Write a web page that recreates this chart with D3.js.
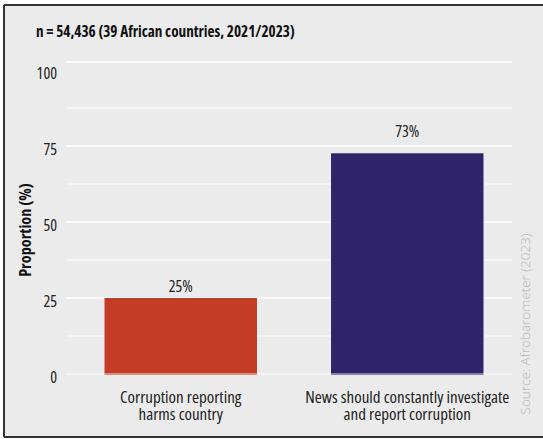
<!DOCTYPE html>
<html>
<head>
<meta charset="utf-8">
<script src="https://cdn.jsdelivr.net/npm/d3@7"></script>
<style>
  html, body { margin: 0; padding: 0; background: #ffffff; }
  svg { display: block; }
  text { font-family: "Open Sans", sans-serif; font-stretch: 75%; }
</style>
</head>
<body>
<svg id="chart" width="543" height="439"></svg>
<script>
const categories = [
  ["Corruption reporting", "harms country"],
  ["News should constantly investigate", "and report corruption"]
];
const categoryKeys = ["Corruption reporting harms country", "News should constantly investigate and report corruption"];
const values = [25, 72.6];
const valueLabels = ["25%", "73%"];
const barColors = ["#c23c26", "#2f246b"];
const yTicks = [0, 25, 50, 75, 100];
const yMinorTicks = [12.5, 37.5, 62.5, 87.5];
const title = "n = 54,436 (39 African countries, 2021/2023)";
const yTitle = "Proportion (%)";
const source = "Source: Afrobarometer (2023)";

const svg = d3.select("#chart");
const W = 543, H = 439;

// panel background and frame
svg.append("rect").attr("x", 4).attr("y", 5).attr("width", W - 4).attr("height", 431).attr("fill", "#ebebeb");
svg.append("line").attr("x1", 4).attr("x2", W).attr("y1", 5).attr("y2", 5).attr("stroke", "#333").attr("stroke-width", 2);
svg.append("line").attr("x1", 4).attr("x2", 4).attr("y1", 5).attr("y2", 437).attr("stroke", "#333").attr("stroke-width", 2);
svg.append("line").attr("x1", 4).attr("x2", W).attr("y1", 437).attr("y2", 437).attr("stroke", "#333").attr("stroke-width", 2);

const gridX0 = 66, gridX1 = 512;
const y = d3.scaleLinear().domain([0, 100]).range([374, 70]);
const x = d3.scaleBand().domain(categoryKeys).range([66, 522]).paddingInner(0.327).paddingOuter(0.17);

// grid
const grid = svg.append("g");
yMinorTicks.forEach(t => grid.append("line").attr("x1", gridX0).attr("x2", gridX1)
  .attr("y1", y(t)).attr("y2", y(t)).attr("stroke", "#ffffff").attr("stroke-width", 1.2));
yTicks.filter(t => t > 0 && t < 100).forEach(t => grid.append("line").attr("x1", gridX0).attr("x2", gridX1)
  .attr("y1", y(t)).attr("y2", y(t)).attr("stroke", "#ffffff").attr("stroke-width", 1.4));
// top panel line
grid.append("line").attr("x1", gridX0).attr("x2", gridX1)
  .attr("y1", y(100) - 8).attr("y2", y(100) - 8).attr("stroke", "#ffffff").attr("stroke-width", 1.4);

// bars
svg.append("g").selectAll("rect").data(values).join("rect")
  .attr("x", (d, i) => x(categoryKeys[i]))
  .attr("width", x.bandwidth())
  .attr("y", d => y(d))
  .attr("height", d => y(0) - y(d) + 1)
  .attr("fill", (d, i) => barColors[i]);

// zero line over bars
svg.append("line").attr("x1", gridX0).attr("x2", gridX1).attr("y1", y(0)).attr("y2", y(0))
  .attr("stroke", "#ffffff").attr("stroke-opacity", 0.55).attr("stroke-width", 1.4);

// value labels
svg.append("g").selectAll("text").data(values).join("text")
  .attr("x", (d, i) => x(categoryKeys[i]) + x.bandwidth() / 2)
  .attr("y", d => y(d * 1.075))
  .attr("text-anchor", "middle")
  .attr("font-size", 16)
  .attr("fill", "#222")
  .text((d, i) => valueLabels[i]);

// y axis labels
const yAxis = d3.axisLeft(y).tickValues(yTicks).tickSize(0).tickPadding(9).tickFormat(d3.format("d"));
const ya = svg.append("g").attr("transform", `translate(${gridX0},0)`).call(yAxis);
ya.select(".domain").remove();
ya.selectAll("text").attr("font-size", 16).attr("fill", "#222")
  .attr("font-family", null)
  .attr("dy", "0.55em");

// x axis labels
const xl = svg.append("g");
categories.forEach((lines, i) => {
  const cx = x(categoryKeys[i]) + x.bandwidth() / 2;
  lines.forEach((ln, j) => {
    xl.append("text").attr("x", cx).attr("y", 403 + j * 16.6)
      .attr("text-anchor", "middle").attr("font-size", 17)
      .attr("fill", "#222").text(ln);
  });
});

// title
svg.append("text").attr("x", 36).attr("y", 37).attr("font-size", 15.2).attr("font-weight", "bold")
  .attr("fill", "#111").text(title);

// y title
svg.append("text").attr("transform", "translate(31,230) rotate(-90)")
  .attr("text-anchor", "middle").attr("font-size", 16.2).attr("font-weight", "bold")
  .style("font-stretch", "87.5%")
  .attr("fill", "#111").text(yTitle);

// source
svg.append("text").attr("transform", "translate(530,324) rotate(-90)")
  .attr("text-anchor", "middle").attr("font-size", 13.5).attr("font-weight", 300)
  .style("font-stretch", "100%")
  .attr("fill", "#b5b5b5").text(source);
</script>
</body>
</html>
